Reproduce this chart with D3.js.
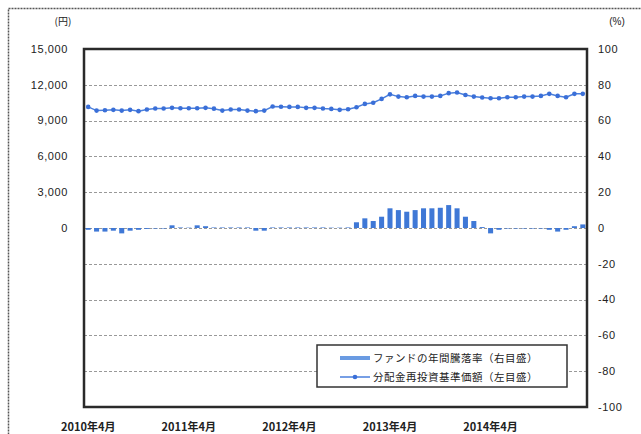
<!DOCTYPE html>
<html>
<head>
<meta charset="utf-8">
<script src="https://cdn.jsdelivr.net/npm/d3@7"></script>
<style>
  body { margin: 0; background: #fff; }
  text { font-family: "Liberation Sans", "Noto Sans CJK JP", sans-serif; fill: #222; }
</style>
</head>
<body>
<svg></svg>
<script>
// monthly categories, 2010年4月 .. 2015年3月
var months = [];
for (var y = 2010; y <= 2015; y++) {
    for (var m = 1; m <= 12; m++) {
        if ((y === 2010 && m < 4) || (y === 2015 && m > 3)) continue;
        months.push(y + '年' + m + '月');
    }
}

var tickMonths = ['2010年4月', '2011年4月', '2012年4月', '2013年4月', '2014年4月'];

// 分配金再投資基準価額 (円, left axis)
var navValues = [10150, 9840, 9870, 9900, 9840, 9900, 9790, 9930, 10010, 10010,
    10070, 10040, 10030, 10030, 10070, 10000, 9840, 9930, 9930, 9840,
    9790, 9840, 10180, 10160, 10150, 10150, 10070, 10070, 10010, 9980,
    9900, 9950, 10120, 10400, 10500, 10820, 11200, 11010, 10960, 11070,
    11010, 11010, 11070, 11300, 11350, 11150, 11010, 10930, 10870, 10870,
    10960, 10960, 11010, 11010, 11070, 11240, 11070, 10960, 11240, 11240];

// ファンドの年間騰落率 (%, right axis)
var returnValues = [-1, -2, -2, -1.5, -3, -1.5, -1, -0.5, -0.3, -0.3,
    1.5, 0.3, 0.2, 1.5, 1, 0.3, 0.3, 0.3, 0.3, 0.3,
    -1.5, -1.5, 0.3, 0.3, 0.3, 0.3, 0.3, 0.3, 0.3, 0.2,
    0.2, 0.3, 3.2, 5.4, 3.9, 6.3, 11, 10, 9.1, 10,
    11, 11, 11.3, 12.8, 11, 6.3, 3.9, 0.5, -3, -1,
    -0.3, -0.3, -0.3, -0.3, -0.3, -1, -2, -1, 1, 2];

var leftTicks = [0, 3000, 6000, 9000, 12000, 15000];
var rightTicks = [100, 80, 60, 40, 20, 0, -20, -40, -60, -80, -100];
var legendLabels = ['ファンドの年間騰落率（右目盛）', '分配金再投資基準価額（左目盛）'];

var W = 641, H = 434;
var plot = { left: 84, right: 587, top: 49, bottom: 407 };

var svg = d3.select('svg')
    .attr('width', W)
    .attr('height', H);

// outer frame
svg.append('rect')
    .attr('x', 8.5)
    .attr('y', 8.5)
    .attr('width', 700)
    .attr('height', 500)
    .attr('fill', 'none')
    .attr('stroke', '#555')
    .attr('stroke-width', 1.5)
    .attr('stroke-dasharray', '2,1');

var x = d3.scaleBand()
    .domain(months)
    .range([plot.left, plot.right])
    .paddingInner(0.4)
    .paddingOuter(0.2);

var yLeft = d3.scaleLinear()
    .domain([-15000, 15000])
    .range([plot.bottom, plot.top]);

var yRight = d3.scaleLinear()
    .domain([-100, 100])
    .range([plot.bottom, plot.top]);

// gridlines
svg.append('g')
    .selectAll('line')
    .data(rightTicks.filter(function (d) { return d !== 100 && d !== -100; }))
    .enter().append('line')
    .attr('x1', plot.left)
    .attr('x2', plot.right)
    .attr('y1', function (d) { return Math.round(yRight(d)) + 0.5; })
    .attr('y2', function (d) { return Math.round(yRight(d)) + 0.5; })
    .attr('stroke', '#999')
    .attr('stroke-width', 1)
    .attr('stroke-dasharray', '3,2');

// bars
svg.append('g')
    .selectAll('rect')
    .data(returnValues)
    .enter().append('rect')
    .attr('x', function (d, i) { return x(months[i]); })
    .attr('width', x.bandwidth())
    .attr('y', function (d) { return yRight(Math.max(0, d)); })
    .attr('height', function (d) { return Math.abs(yRight(d) - yRight(0)); })
    .attr('fill', '#3f78d6');

// nav line
var line = d3.line()
    .x(function (d, i) { return x(months[i]) + x.bandwidth() / 2; })
    .y(function (d) { return yLeft(d); });

svg.append('path')
    .datum(navValues)
    .attr('d', line)
    .attr('fill', 'none')
    .attr('stroke', '#4a7fdc')
    .attr('stroke-width', 1.5);

svg.append('g')
    .selectAll('circle')
    .data(navValues)
    .enter().append('circle')
    .attr('cx', function (d, i) { return x(months[i]) + x.bandwidth() / 2; })
    .attr('cy', function (d) { return yLeft(d); })
    .attr('r', 2.3)
    .attr('fill', '#3a6fd8');

// plot border
svg.append('rect')
    .attr('x', plot.left)
    .attr('y', plot.top)
    .attr('width', plot.right - plot.left)
    .attr('height', plot.bottom - plot.top)
    .attr('fill', 'none')
    .attr('stroke', '#2a2a2a')
    .attr('stroke-width', 2.5);

// left axis
svg.append('g')
    .selectAll('text')
    .data(leftTicks)
    .enter().append('text')
    .attr('x', 68)
    .attr('y', function (d) { return yLeft(d); })
    .attr('dy', '0.35em')
    .attr('text-anchor', 'end')
    .style('font-size', '11px')
    .style('letter-spacing', '0.6px')
    .text(function (d) { return d3.format(',')(d); });

svg.append('text')
    .attr('x', 63)
    .attr('y', 21)
    .attr('dy', '0.35em')
    .attr('text-anchor', 'middle')
    .style('font-size', '10px')
    .style('font-family', '"Noto Sans CJK JP"')
    .text('(円)');

// right axis
svg.append('g')
    .selectAll('text')
    .data(rightTicks)
    .enter().append('text')
    .attr('x', 598)
    .attr('y', function (d) { return yRight(d); })
    .attr('dy', '0.35em')
    .attr('text-anchor', 'start')
    .style('font-size', '11px')
    .style('letter-spacing', '0.6px')
    .text(function (d) { return d < 0 ? '-' + Math.abs(d) : d; });

svg.append('text')
    .attr('x', 617)
    .attr('y', 21)
    .attr('dy', '0.35em')
    .attr('text-anchor', 'middle')
    .style('font-size', '10px')
    .text('(%)');

// x axis labels
svg.append('g')
    .selectAll('text')
    .data(tickMonths)
    .enter().append('text')
    .attr('x', function (d) { return x(d) + x.bandwidth() / 2; })
    .attr('y', 427)
    .attr('dy', '0.35em')
    .attr('text-anchor', 'middle')
    .style('font-size', '11px')
    .style('font-family', '"Noto Sans CJK JP"')
    .style('font-weight', 'bold')
    .text(function (d) { return d; });

// legend
var legend = svg.append('g');

legend.append('rect')
    .attr('x', 317)
    .attr('y', 345)
    .attr('width', 250)
    .attr('height', 42)
    .attr('fill', '#fff')
    .attr('stroke', '#333')
    .attr('stroke-width', 1.5);

legend.append('line')
    .attr('x1', 340)
    .attr('x2', 370)
    .attr('y1', 358)
    .attr('y2', 358)
    .attr('stroke', '#6a9be2')
    .attr('stroke-width', 4);

legend.append('line')
    .attr('x1', 340)
    .attr('x2', 370)
    .attr('y1', 377)
    .attr('y2', 377)
    .attr('stroke', '#4a7fdc')
    .attr('stroke-width', 1.5);

legend.append('circle')
    .attr('cx', 355)
    .attr('cy', 377)
    .attr('r', 2.3)
    .attr('fill', '#3a6fd8');

legend.selectAll('text.lg')
    .data(legendLabels)
    .enter().append('text')
    .attr('class', 'lg')
    .attr('x', 373)
    .attr('y', function (d, i) { return 358 + i * 19; })
    .attr('dy', '0.35em')
    .style('font-size', '10.5px')
    .style('font-family', '"Noto Sans CJK JP"')
    .style('letter-spacing', '0.5px')
    .text(function (d) { return d; });
</script>
</body>
</html>
